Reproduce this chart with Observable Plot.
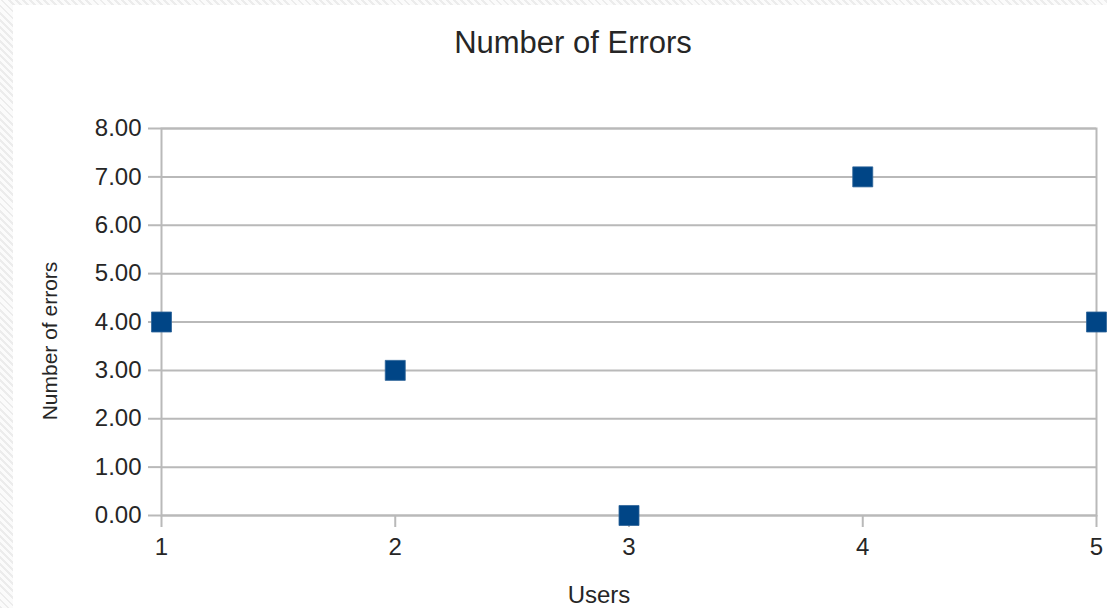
<!DOCTYPE html>
<html>
<head>
<meta charset="utf-8">
<script src="https://cdn.jsdelivr.net/npm/d3@7"></script>
<script src="https://cdn.jsdelivr.net/npm/@observablehq/plot@0.6"></script>
<style>
  html, body { margin: 0; padding: 0; }
  body {
    width: 1107px; height: 608px; overflow: hidden; position: relative;
    background: repeating-linear-gradient(45deg, #ececec 0 2px, #fbfbfb 2px 5px);
  }
  #paper { position: absolute; left: 13px; top: 5px; right: 0; bottom: 0; background: #fff; }
  #chart { position: absolute; left: 0; top: 0; }
</style>
</head>
<body>
<div id="paper"></div>
<div id="chart"></div>
<script>
const users = [1, 2, 3, 4, 5];
const errors = [4, 3, 0, 7, 4];
const yTicks = [0, 1, 2, 3, 4, 5, 6, 7, 8];
const xTicks = [1, 2, 3, 4, 5];
const titleText = "Number of Errors";
const xTitle = "Users";
const yTitle = "Number of errors";

const data = users.map((u, i) => ({user: u, errors: errors[i]}));
const grid = "#b9b9b9";
const ink = "#262626";
const font = "'Liberation Sans', Arial, sans-serif";

const chart = Plot.plot({
  width: 1107,
  height: 608,
  marginLeft: 161,
  marginRight: 11,
  marginTop: 128,
  marginBottom: 93,
  style: {fontFamily: font, fontSize: "24px", background: "none", color: ink},
  x: {domain: [1, 5]},
  y: {domain: [0, 8]},
  marks: [
    Plot.gridY(yTicks, {stroke: grid, strokeWidth: 2, strokeOpacity: 1}),
    Plot.frame({stroke: grid, strokeWidth: 2}),
    Plot.axisY(yTicks, {
      tickSize: 13, tickPadding: 7, stroke: grid, strokeWidth: 2,
      tickFormat: d => d.toFixed(2), label: null, fill: ink, fontSize: 24
    }),
    Plot.axisX(xTicks, {
      tickSize: 12, tickPadding: 10, stroke: grid, strokeWidth: 2,
      tickFormat: d => String(d), label: null, fill: ink, fontSize: 24
    }),
    Plot.dot(data, {
      x: "user", y: "errors", symbol: "square", r: 11.3,
      fill: "#004586", stroke: "#2f6499", strokeWidth: 0.8
    }),
    Plot.text([titleText], {
      text: d => d, frameAnchor: "top", dx: -56, dy: -85,
      fontSize: 31, fill: ink, lineAnchor: "middle"
    }),
    Plot.text([xTitle], {
      text: d => d, frameAnchor: "bottom", dx: -30, dy: 80,
      fontSize: 24, fill: ink, lineAnchor: "middle"
    }),
    Plot.text([yTitle], {
      text: d => d, frameAnchor: "left", textAnchor: "middle", dx: -111, dy: 19, rotate: -90,
      fontSize: 21, fill: ink, lineAnchor: "middle", letterSpacing: "2.5px"
    })
  ]
});
document.getElementById("chart").appendChild(chart);
</script>
</body>
</html>
